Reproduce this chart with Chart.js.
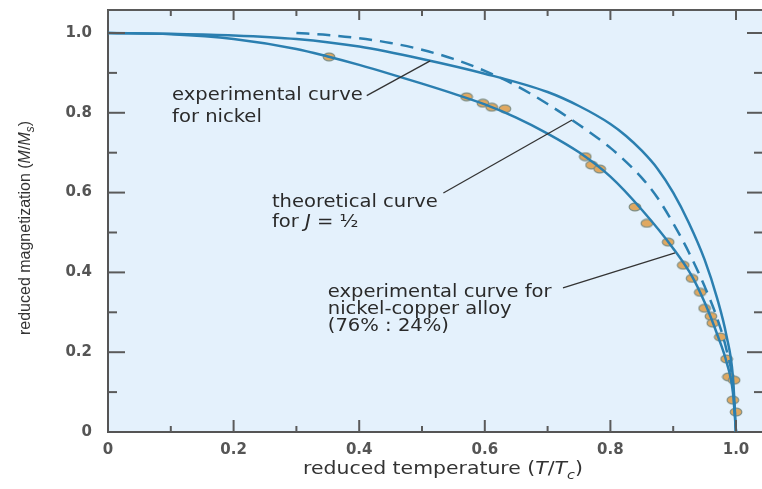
<!DOCTYPE html>
<html><head><meta charset="utf-8">
<script src="https://cdn.jsdelivr.net/npm/chart.js@4.4.1/dist/chart.umd.min.js"></script>
<style>html,body{margin:0;padding:0;background:#fff;}</style>
</head><body>
<canvas id="c" width="762" height="489"></canvas>
<script>
// ---- data ----
const xTickValues = [0, 0.2, 0.4, 0.6, 0.8, 1.0];
const xTickLabels = ['0', '0.2', '0.4', '0.6', '0.8', '1.0'];
const yTickValues = [0, 0.2, 0.4, 0.6, 0.8, 1.0];
const yTickLabels = ['0', '0.2', '0.4', '0.6', '0.8', '1.0'];
const minorTickValues = [0.1, 0.3, 0.5, 0.7, 0.9];

// experimental curve for nickel
const tempNickel = [0, 0.1, 0.2, 0.3, 0.4, 0.5, 0.6, 0.7, 0.75, 0.8, 0.825, 0.85, 0.875, 0.9, 0.925, 0.95, 0.97, 0.985, 0.995, 1.0];
const magNickel  = [1.0, 0.998, 0.994, 0.985, 0.966, 0.935, 0.898, 0.852, 0.817, 0.772, 0.742, 0.705, 0.66, 0.6, 0.524, 0.432, 0.335, 0.24, 0.14, 0];

// theoretical curve for J = 1/2
const tempTheory = [0.3, 0.35, 0.4, 0.45, 0.5, 0.55, 0.6, 0.65, 0.7, 0.75, 0.8, 0.825, 0.85, 0.875, 0.9, 0.925, 0.95, 0.97, 0.985, 0.995, 1.0];
const magTheory  = [1.0, 0.995, 0.987, 0.975, 0.958, 0.935, 0.905, 0.868, 0.822, 0.77, 0.712, 0.677, 0.637, 0.587, 0.523, 0.45, 0.365, 0.285, 0.205, 0.12, 0];

// experimental curve for nickel-copper alloy
const tempAlloy = [0, 0.1, 0.2, 0.3, 0.35, 0.4, 0.45, 0.5, 0.55, 0.6, 0.65, 0.7, 0.75, 0.8, 0.85, 0.9, 0.93, 0.95, 0.97, 0.985, 0.995, 1.0];
const magAlloy  = [1.0, 0.997, 0.985, 0.96, 0.941, 0.92, 0.897, 0.873, 0.848, 0.821, 0.788, 0.748, 0.701, 0.64, 0.557, 0.46, 0.39, 0.325, 0.245, 0.175, 0.1, 0];

// measured points (alloy)
const tempPoints = [0.352, 0.571, 0.597, 0.611, 0.632, 0.76, 0.77, 0.783, 0.839, 0.858, 0.892, 0.916, 0.93, 0.943, 0.95, 0.96, 0.963, 0.975, 0.985, 0.988, 0.997, 0.995, 1.0];
const magPoints  = [0.94, 0.84, 0.824, 0.814, 0.81, 0.69, 0.669, 0.659, 0.564, 0.523, 0.476, 0.418, 0.385, 0.35, 0.31, 0.29, 0.273, 0.238, 0.183, 0.138, 0.13, 0.08, 0.05];

const xTitle = [{t: 'reduced temperature ('}, {t: 'T', i: true}, {t: '/'}, {t: 'T', i: true}, {t: 'c', i: true, sub: true}, {t: ')'}];
const yTitle = [{t: 'reduced magnetization ('}, {t: 'M', i: true}, {t: '/'}, {t: 'M', i: true}, {t: 's', i: true, sub: true}, {t: ')'}];

const notes = [
  {lines: [[{t: 'experimental curve'}], [{t: 'for nickel'}]], at: [0.102, 0.832], gap: 22, from: [0.412, 0.843], to: [0.513, 0.93]},
  {lines: [[{t: 'theoretical curve'}], [{t: 'for '}, {t: 'J', i: true}, {t: ' = ½'}]], at: [0.261, 0.564], gap: 20, from: [0.534, 0.599], to: [0.739, 0.782]},
  {lines: [[{t: 'experimental curve for'}], [{t: 'nickel-copper alloy'}], [{t: '(76% : 24%)'}]], at: [0.350, 0.338], gap: 17, from: [0.7245, 0.361], to: [0.903, 0.449]}
];

// ---- helpers ----
const zip = (xs, ys) => xs.map((x, k) => ({x: x, y: ys[k]}));
const CURVE = '#2b7fb0';

const marker = document.createElement('canvas');
marker.width = 14; marker.height = 10;
(function () {
  const m = marker.getContext('2d');
  m.beginPath();
  m.ellipse(7, 5, 5.8, 3.9, 0, 0, Math.PI * 2);
  m.fillStyle = '#e0a860';
  m.fill();
  m.lineWidth = 1.2;
  m.strokeStyle = '#7f8e84';
  m.stroke();
})();

function drawRich(ctx, parts, x, y, o) {
  const size = o.size, fam = o.family;
  const fontOf = p => (p.i ? 'italic ' : '') + (o.weight || 'normal') + ' ' + (p.sub ? Math.round(size * 0.72) : size) + 'px ' + fam;
  let total = 0;
  const widths = parts.map(p => { ctx.font = fontOf(p); const w = ctx.measureText(p.t).width; total += w; return w; });
  ctx.save();
  ctx.translate(x, y);
  if (o.rotate) ctx.rotate(o.rotate);
  ctx.scale(o.sx || 1, 1);
  ctx.fillStyle = o.color || '#333';
  ctx.textBaseline = o.baseline || 'alphabetic';
  ctx.textAlign = 'left';
  let cx = o.align === 'center' ? -total / 2 : 0;
  parts.forEach((p, k) => {
    ctx.font = fontOf(p);
    ctx.fillText(p.t, cx, p.sub ? size * 0.28 : 0);
    cx += widths[k];
  });
  ctx.restore();
}

const decor = {
  id: 'decor',
  beforeDraw(chart) {
    const {ctx, chartArea: a} = chart;
    ctx.save();
    ctx.fillStyle = '#e4f1fc';
    ctx.fillRect(a.left, a.top, a.right - a.left, a.bottom - a.top);
    ctx.restore();
  },
  afterDatasetsDraw(chart) {
    const {ctx, chartArea: a, scales: {x, y}} = chart;
    ctx.save();
    // leader lines
    ctx.strokeStyle = '#333';
    ctx.lineWidth = 1.3;
    notes.forEach(n => {
      ctx.beginPath();
      ctx.moveTo(x.getPixelForValue(n.from[0]), y.getPixelForValue(n.from[1]));
      ctx.lineTo(x.getPixelForValue(n.to[0]), y.getPixelForValue(n.to[1]));
      ctx.stroke();
    });
    // frame top
    ctx.strokeStyle = '#5a5a5a';
    ctx.lineWidth = 2;
    ctx.beginPath(); ctx.moveTo(a.left, a.top); ctx.lineTo(a.right, a.top); ctx.stroke();
    // ticks
    const tick = (x1, y1, x2, y2) => { ctx.beginPath(); ctx.moveTo(x1, y1); ctx.lineTo(x2, y2); ctx.stroke(); };
    xTickValues.forEach(v => { const px = x.getPixelForValue(v); if (v > 0) { tick(px, a.bottom, px, a.bottom - 12); } tick(px, a.top, px, a.top + 10); });
    minorTickValues.forEach(v => { const px = x.getPixelForValue(v); tick(px, a.bottom, px, a.bottom - 6); tick(px, a.top, px, a.top + 6); });
    yTickValues.forEach(v => { const py = y.getPixelForValue(v); if (v > 0) { tick(a.left, py, a.left + 17, py); tick(a.right, py, a.right - 15, py); } });
    minorTickValues.forEach(v => { const py = y.getPixelForValue(v); tick(a.left, py, a.left + 9, py); tick(a.right, py, a.right - 8, py); });
    ctx.restore();
    // annotation text
    notes.forEach(n => {
      const px = x.getPixelForValue(n.at[0]);
      const py = y.getPixelForValue(n.at[1]);
      n.lines.forEach((ln, k) => drawRich(ctx, ln, px, py + k * n.gap, {size: 17, family: '"DejaVu Sans"', sx: 1.15, color: '#2a2a2a'}));
    });
    // axis titles
    drawRich(ctx, xTitle, 443, 474, {size: 17, family: '"DejaVu Sans"', sx: 1.2, align: 'center', color: '#333'});
    drawRich(ctx, yTitle, 26, 228, {size: 16, family: '"Liberation Sans"', rotate: -Math.PI / 2, align: 'center', baseline: 'middle', color: '#333'});
  }
};

new Chart(document.getElementById('c'), {
  type: 'line',
  data: {
    datasets: [
      {label: 'experimental curve for nickel', data: zip(tempNickel, magNickel), borderColor: CURVE, borderWidth: 2.5, pointRadius: 0, cubicInterpolationMode: 'monotone', fill: false},
      {label: 'theoretical curve for J = 1/2', data: zip(tempTheory, magTheory), borderColor: CURVE, borderWidth: 2.5, borderDash: [13, 8], pointRadius: 0, cubicInterpolationMode: 'monotone', fill: false},
      {label: 'experimental curve for nickel-copper alloy', data: zip(tempAlloy, magAlloy), borderColor: CURVE, borderWidth: 2.5, pointRadius: 0, cubicInterpolationMode: 'monotone', fill: false},
      {label: 'measurements', data: zip(tempPoints, magPoints), showLine: false, pointStyle: marker, pointRadius: 6, pointHoverRadius: 6}
    ]
  },
  options: {
    responsive: false,
    devicePixelRatio: 1,
    animation: false,
    layout: {autoPadding: false, padding: {top: 10, right: 0, left: 0, bottom: 0}},
    plugins: {legend: {display: false}, tooltip: {enabled: false}},
    scales: {
      x: {
        type: 'linear', min: 0, max: 1.0414,
        grid: {display: false, drawTicks: false},
        border: {display: true, color: '#555', width: 2},
        afterBuildTicks: s => { s.ticks = xTickValues.map(v => ({value: v})); },
        afterFit: s => { s.height = 57; s.paddingLeft = 0; s.paddingRight = 0; },
        ticks: {padding: 9, color: '#555', font: {family: '"DejaVu Sans"', size: 15, weight: 'bold'},
          callback: (v) => { const k = xTickValues.indexOf(v); return k >= 0 ? xTickLabels[k] : ''; }}
      },
      y: {
        type: 'linear', min: 0, max: 1.0576,
        grid: {display: false, drawTicks: false},
        border: {display: true, color: '#555', width: 2},
        afterBuildTicks: s => { s.ticks = yTickValues.map(v => ({value: v})); },
        afterFit: s => { s.width = 108; s.paddingTop = 0; s.paddingBottom = 0; },
        ticks: {padding: 16, color: '#555', font: {family: '"DejaVu Sans"', size: 15, weight: 'bold'},
          callback: (v) => { const k = yTickValues.indexOf(v); return k >= 0 ? yTickLabels[k] : ''; }}
      }
    }
  },
  plugins: [decor]
});
</script>
</body></html>
